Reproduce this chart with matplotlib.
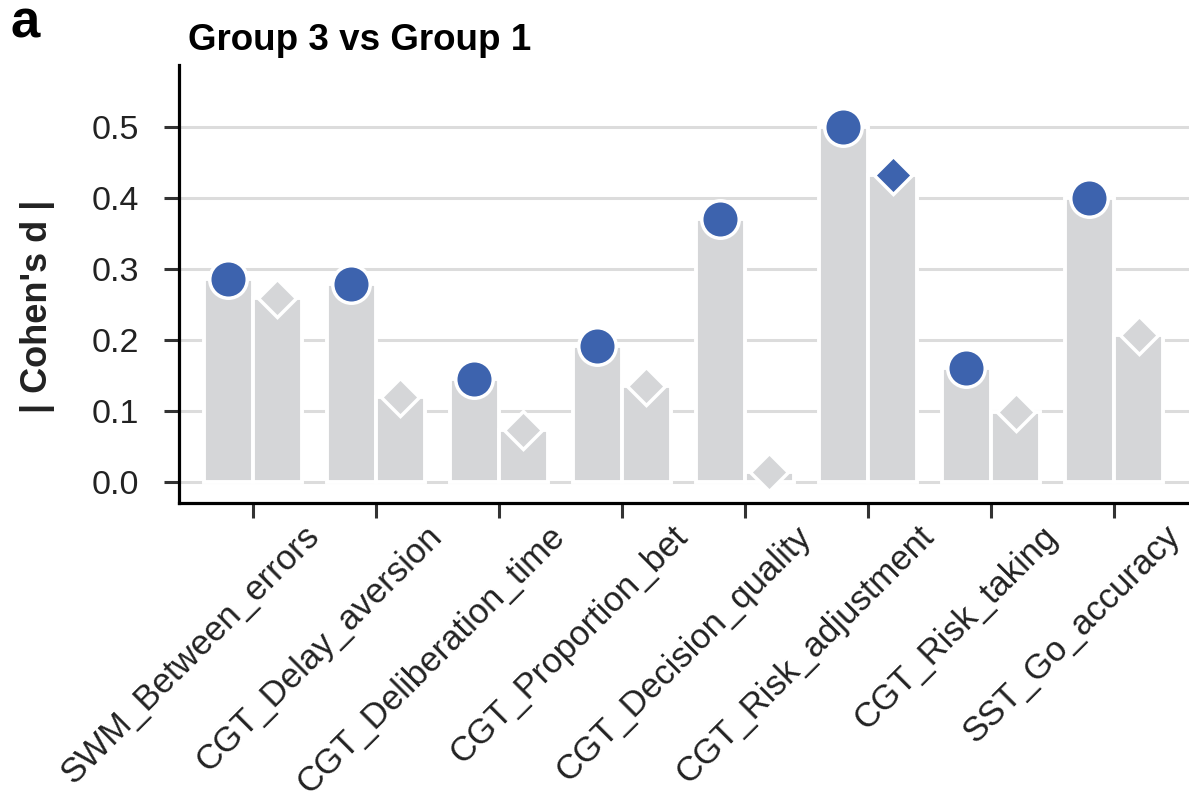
import matplotlib
matplotlib.use("Agg")
import matplotlib.pyplot as plt
import matplotlib.transforms as mtransforms
import numpy as np

plt.rcParams['font.family'] = ['Liberation Sans', 'DejaVu Sans']

categories = ["SWM_Between_errors", "CGT_Delay_aversion", "CGT_Deliberation_time",
              "CGT_Proportion_bet", "CGT_Decision_quality", "CGT_Risk_adjustment",
              "CGT_Risk_taking", "SST_Go_accuracy"]
circle_vals = [0.286, 0.279, 0.145, 0.192, 0.370, 0.500, 0.161, 0.400]
diamond_vals = [0.259, 0.120, 0.073, 0.135, 0.014, 0.432, 0.099, 0.207]
circle_sig = [1, 1, 1, 1, 1, 1, 1, 1]
diamond_sig = [0, 0, 0, 0, 0, 1, 0, 0]
yticks = [0.0, 0.1, 0.2, 0.3, 0.4, 0.5]

GRAY = "#d5d6d8"
BLUE = "#3d63ae"

fig = plt.figure(figsize=(11.89, 7.99), dpi=100)
ax = fig.add_axes([179/1189, 1 - 503/799, 1 - 179/1189, (503 - 65)/799])

x = np.arange(len(categories))
w = 0.4
ax.bar(x - w/2, circle_vals, width=w, color=GRAY, edgecolor="white", linewidth=2.8, zorder=2)
ax.bar(x + w/2, diamond_vals, width=w, color=GRAY, edgecolor="white", linewidth=2.8, zorder=2)

for xi, v, s in zip(x, circle_vals, circle_sig):
    ax.plot(xi - w/2, v, marker='o', ms=27, mfc=BLUE if s else GRAY, mec='white', mew=2.5, zorder=4, clip_on=False)
for xi, v, s in zip(x, diamond_vals, diamond_sig):
    ax.plot(xi + w/2, v, marker='D', ms=19.5, mfc=BLUE if s else GRAY, mec='white', mew=2.5, zorder=4, clip_on=False)

ax.set_xlim(-0.6, 7.61)
ax.set_ylim(-0.0296, 0.587)
ax.set_yticks(yticks)
ax.set_yticklabels([f"{t:.1f}" for t in yticks])
ax.yaxis.grid(True, color="#dcdcdc", linewidth=2.2, zorder=0)
ax.set_axisbelow(True)

for sp in ["top", "right"]:
    ax.spines[sp].set_visible(False)
for sp in ["left", "bottom"]:
    ax.spines[sp].set_linewidth(2.3)
    ax.spines[sp].set_color("black")

ax.tick_params(axis='y', length=11, width=2.2, color="#333333", labelsize=24.5, labelcolor="#222222", pad=18)
ax.tick_params(axis='x', length=11, width=2.2, color="#333333", labelsize=25, labelcolor="#222222", pad=0)

ax.set_xticks(x)
ax.set_xticklabels(categories)
offset = mtransforms.ScaledTranslation(0.61, -0.13, fig.dpi_scale_trans)
for lab in ax.get_xticklabels():
    lab.set_rotation(45)
    lab.set_rotation_mode('anchor')
    lab.set_ha('right')
    lab.set_va('center')
    lab.set_transform(lab.get_transform() + offset)

ax.set_ylabel("| Cohen's d |", fontsize=26, fontweight='bold', color="#222222")
ax.yaxis.set_label_coords(-0.123, 0.45)

fig.text(188/1189, 1 - 50/799, "Group 3 vs Group 1", fontsize=26.5, fontweight='bold', ha='left', va='baseline')
fig.text(10/1189, 1 - 38/799, "a", fontsize=38, fontweight='bold', ha='left', va='baseline')

fig.savefig("out.png", dpi=100)
